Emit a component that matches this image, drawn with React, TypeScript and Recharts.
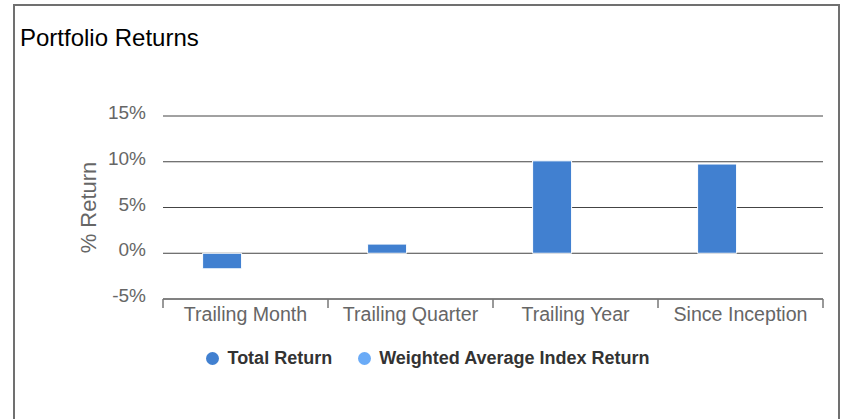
import React from 'react';
import {
  BarChart,
  Bar,
  XAxis,
  YAxis,
  CartesianGrid,
  Legend
} from 'recharts';

const categories = ['Trailing Month', 'Trailing Quarter', 'Trailing Year', 'Since Inception'];
const totalReturn = [-1.7, 1.0, 10.1, 9.75];
const indexReturn: (number | null)[] = [null, null, null, null];
const yTicks = [-5, 0, 5, 10, 15];

const seriesInfo = [
  { key: 'total', name: 'Total Return', color: '#4180d0' },
  { key: 'index', name: 'Weighted Average Index Return', color: '#6aabf7' }
];

const W = 843;
const H = 419;
const margin = { top: 116, right: 20, bottom: 49, left: 63 };
const yAxisWidth = 100;
const bandWidth = (W - margin.left - yAxisWidth - margin.right) / categories.length;

const data = categories.map((name, i) => ({
  name,
  total: totalReturn[i],
  index: indexReturn[i]
}));

const font = 'Arial, "Liberation Sans", Helvetica, sans-serif';

const XTick = (props: any) => {
  const { x, y, payload, index } = props;
  const left = x - bandWidth / 2;
  const right = x + bandWidth / 2;
  return (
    <g>
      <line x1={left} y1={y} x2={left} y2={y + 9} stroke="#777" strokeWidth={1.5} />
      {index === categories.length - 1 && (
        <line x1={right} y1={y} x2={right} y2={y + 9} stroke="#777" strokeWidth={1.5} />
      )}
      <text x={x} y={y + 22} textAnchor="middle" fill="#666" fontSize={19.6} fontFamily={font}>
        {payload.value}
      </text>
    </g>
  );
};

const YTick = (props: any) => {
  const { x, y, payload } = props;
  return (
    <text x={x} y={y + 3} textAnchor="end" fill="#666" fontSize={19} fontFamily={font}>
      {payload.value}%
    </text>
  );
};

const YLabel = (props: any) => {
  const { viewBox } = props;
  const cx = viewBox.x + 25;
  const cy = viewBox.y + viewBox.height / 2;
  return (
    <text
      x={cx}
      y={cy}
      transform={`rotate(-90, ${cx}, ${cy})`}
      textAnchor="middle"
      dominantBaseline="central"
      fill="#666"
      fontSize={22}
      fontFamily={font}
    >
      % Return
    </text>
  );
};

const LegendContent = () => (
  <div style={{
    height: 24,
    display: 'flex',
    justifyContent: 'center',
    alignItems: 'center',
    paddingLeft: 13,
    fontFamily: font,
    fontWeight: 'bold',
    fontSize: 18,
    color: '#333'
  }}>
    {seriesInfo.map((s, i) => (
      <div key={s.key} style={{ display: 'flex', alignItems: 'center', marginLeft: i ? 26 : 0 }}>
        <span style={{
          width: 13,
          height: 13,
          borderRadius: '50%',
          background: s.color,
          display: 'inline-block',
          marginRight: 8
        }} />
        {s.name}
      </div>
    ))}
  </div>
);

export default function App() {
  return (
    <div style={{ position: 'absolute', left: 0, top: 0, width: W, height: H, background: '#fff', overflow: 'hidden' }}>
      <div style={{
        position: 'absolute',
        left: 13,
        top: 4,
        width: 827,
        height: 440,
        border: '2px solid #707070',
        boxSizing: 'border-box'
      }} />
      <div style={{
        position: 'absolute',
        left: 20,
        top: 26,
        fontFamily: font,
        fontSize: 24,
        lineHeight: '24px',
        color: '#000'
      }}>
        Portfolio Returns
      </div>
      <div style={{ position: 'absolute', left: 0, top: 0 }}>
        <BarChart
          width={W}
          height={H}
          data={data}
          margin={margin}
          barCategoryGap="24%"
          barGap={8}
        >
          <CartesianGrid vertical={false} stroke="#444" strokeWidth={1} />
          <XAxis
            dataKey="name"
            height={47}
            tickLine={false}
            tickSize={0}
            tickMargin={0}
            axisLine={{ stroke: '#777', strokeWidth: 1.5 }}
            tick={<XTick />}
            interval={0}
          />
          <YAxis
            width={yAxisWidth}
            domain={[-5, 15]}
            ticks={yTicks}
            axisLine={false}
            tickLine={false}
            tickSize={0}
            tickMargin={17}
            tick={<YTick />}
            label={<YLabel />}
          />
          <Legend verticalAlign="bottom" wrapperStyle={{ left: 0, width: W }} content={<LegendContent />} />
          {seriesInfo.map(s => (
            <Bar
              key={s.key}
              dataKey={s.key}
              name={s.name}
              fill={s.color}
              stroke="#fff"
              strokeWidth={1}
              isAnimationActive={false}
            />
          ))}
        </BarChart>
      </div>
    </div>
  );
}
